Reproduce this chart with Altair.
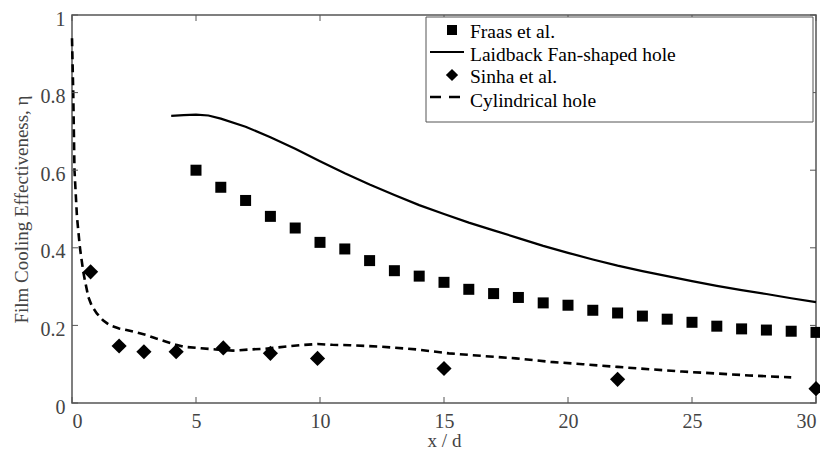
import altair as alt
import pandas as pd

# ---- data ----
fraas_x = list(range(5, 31))
fraas_y = [0.600, 0.556, 0.522, 0.481, 0.451, 0.414, 0.397, 0.367, 0.341, 0.327,
           0.311, 0.293, 0.282, 0.272, 0.258, 0.252, 0.239, 0.232, 0.224, 0.216,
           0.208, 0.198, 0.191, 0.188, 0.185, 0.182]

sinha_x = [0.75, 1.9, 2.9, 4.2, 6.1, 8.0, 9.9, 15, 22, 30]
sinha_y = [0.338, 0.147, 0.132, 0.132, 0.142, 0.128, 0.115, 0.089, 0.061, 0.037]

laid_x = [4, 4.5, 5, 5.5, 6, 7, 8, 9, 10, 11, 12, 13, 14, 15, 16, 17, 18, 19, 20,
          21, 22, 23, 24, 25, 26, 27, 28, 29, 30]
laid_y = [0.740, 0.742, 0.743, 0.741, 0.733, 0.712, 0.685, 0.655, 0.623, 0.592,
          0.563, 0.536, 0.510, 0.487, 0.465, 0.445, 0.425, 0.405, 0.387, 0.370,
          0.354, 0.340, 0.327, 0.314, 0.302, 0.291, 0.281, 0.270, 0.260]

cyl_x = [0.0, 0.05, 0.1, 0.2, 0.32, 0.45, 0.52, 0.66, 0.8, 1.0, 1.25, 1.53, 1.9,
         2.2, 2.6, 3.0, 3.4, 3.8, 4.2, 4.5, 5.2, 5.8, 6.5, 7.2, 7.8, 8.25, 9.2,
         9.9, 10.5, 11.2, 12.5, 13.9, 15.2, 16.6, 17.9, 19.3, 20.6, 22, 23.3,
         24.6, 26, 27.3, 29]
cyl_y = [0.94, 0.80, 0.60, 0.48, 0.40, 0.34, 0.316, 0.273, 0.25, 0.231, 0.213,
         0.200, 0.192, 0.188, 0.182, 0.175, 0.166, 0.158, 0.150, 0.145, 0.141,
         0.138, 0.135, 0.138, 0.140, 0.143, 0.149, 0.152, 0.150, 0.149, 0.145,
         0.138, 0.128, 0.121, 0.115, 0.106, 0.100, 0.093, 0.087, 0.081, 0.076,
         0.071, 0.066]

x_ticks = [0, 5, 10, 15, 20, 25, 30]
y_ticks = [0, 0.2, 0.4, 0.6, 0.8, 1]
legend_labels = ["Fraas et al.", "Laidback Fan-shaped hole", "Sinha et al.", "Cylindrical hole"]

W, H = 744, 388
FONT = "Liberation Serif"
TXT = "#444444"
FRAME = "#555555"

xs = alt.Scale(domain=[0, 30], nice=False, zero=False)
ys = alt.Scale(domain=[0, 1], nice=False)

fraas = pd.DataFrame({"x": fraas_x, "y": fraas_y})
sinha = pd.DataFrame({"x": sinha_x, "y": sinha_y})
laid = pd.DataFrame({"x": laid_x, "y": laid_y})
cyl = pd.DataFrame({"x": cyl_x, "y": cyl_y})

xaxis = alt.Axis(values=x_ticks, title="x / d", tickSize=0, domain=False, grid=False,
                 labelPadding=8, titleY=43, titleBaseline="alphabetic", format="d")
yaxis = alt.Axis(values=y_ticks, title="Film Cooling Effectiveness, η", tickSize=0,
                 domain=False, grid=False, labelPadding=7, labelOffset=4, titlePadding=9,
                 labelExpr="datum.value == 0 ? '0' : datum.value == 1 ? '1' : format(datum.value, '.1f')")

X = alt.X("x:Q", scale=xs)
Y = alt.Y("y:Q", scale=ys)

laid_line = alt.Chart(laid).mark_line(color="black", strokeWidth=2.2).encode(
    x=alt.X("x:Q", scale=xs, axis=xaxis), y=alt.Y("y:Q", scale=ys, axis=yaxis))
cyl_line = alt.Chart(cyl).mark_line(color="black", strokeWidth=2.6, strokeDash=[8, 5]).encode(x=X, y=Y)
fraas_pts = alt.Chart(fraas).mark_point(shape="square", filled=True, color="black", size=121, opacity=1).encode(x=X, y=Y)
sinha_pts = alt.Chart(sinha).mark_point(shape="diamond", filled=True, color="black", size=230, opacity=1).encode(x=X, y=Y)

# inward ticks (MATLAB style) on all four sides
xt = pd.DataFrame({"x": x_ticks})
yt = pd.DataFrame({"y": y_ticks})
tick_bot = alt.Chart(xt).mark_rule(color=FRAME, strokeWidth=1).encode(
    x=X, y=alt.value(H), y2=alt.value(H - 6))
tick_top = alt.Chart(xt).mark_rule(color=FRAME, strokeWidth=1).encode(
    x=X, y=alt.value(0), y2=alt.value(6))
tick_left = alt.Chart(yt).mark_rule(color=FRAME, strokeWidth=1).encode(
    y=Y, x=alt.value(0), x2=alt.value(6))
tick_right = alt.Chart(yt).mark_rule(color=FRAME, strokeWidth=1).encode(
    y=Y, x=alt.value(W), x2=alt.value(W - 6))

# legend
LX0, LX1, LY0, LY1 = 354, 741, 2, 107
row_y = [17, 40, 62, 86]
one = pd.DataFrame({"a": [0]})
leg_box = alt.Chart(one).mark_rect(fill="white", stroke=FRAME, strokeWidth=1).encode(
    x=alt.value(LX0), x2=alt.value(LX1), y=alt.value(LY0), y2=alt.value(LY1))
leg_texts = [
    alt.Chart(pd.DataFrame({"label": [lab]})).mark_text(
        align="left", baseline="middle", font=FONT, fontSize=19.5, color="black").encode(
        x=alt.value(398), y=alt.value(ry), text="label:N")
    for lab, ry in zip(legend_labels, row_y)
]
leg_sq = alt.Chart(one).mark_point(shape="square", filled=True, color="black", size=100, opacity=1).encode(
    x=alt.value(380), y=alt.value(row_y[0] - 2))
leg_di = alt.Chart(one).mark_point(shape="diamond", filled=True, color="black", size=150, opacity=1).encode(
    x=alt.value(380), y=alt.value(row_y[2] - 2))
leg_solid = alt.Chart(one).mark_rule(color="black", strokeWidth=2.2).encode(
    x=alt.value(358), x2=alt.value(392), y=alt.value(row_y[1] - 3))
leg_dash = alt.Chart(one).mark_rule(color="black", strokeWidth=2.6, strokeDash=[11, 8]).encode(
    x=alt.value(358), x2=alt.value(392), y=alt.value(row_y[3] - 4))

chart = alt.layer(
    laid_line, cyl_line, fraas_pts, sinha_pts,
    tick_bot, tick_top, tick_left, tick_right,
    leg_box, *leg_texts, leg_sq, leg_di, leg_solid, leg_dash,
).properties(
    width=W, height=H,
    padding={"left": 64, "top": 7, "right": 4, "bottom": 46},
    autosize=alt.AutoSizeParams(type="none"),
    background="white",
).configure_view(
    stroke=FRAME, strokeWidth=1.5
).configure_axis(
    labelFont=FONT, titleFont=FONT, labelFontSize=20, titleFontSize=19,
    labelColor=TXT, titleColor=TXT, titleFontWeight="normal"
)

chart.save("out.html", embed_options={"renderer": "svg", "actions": False})
